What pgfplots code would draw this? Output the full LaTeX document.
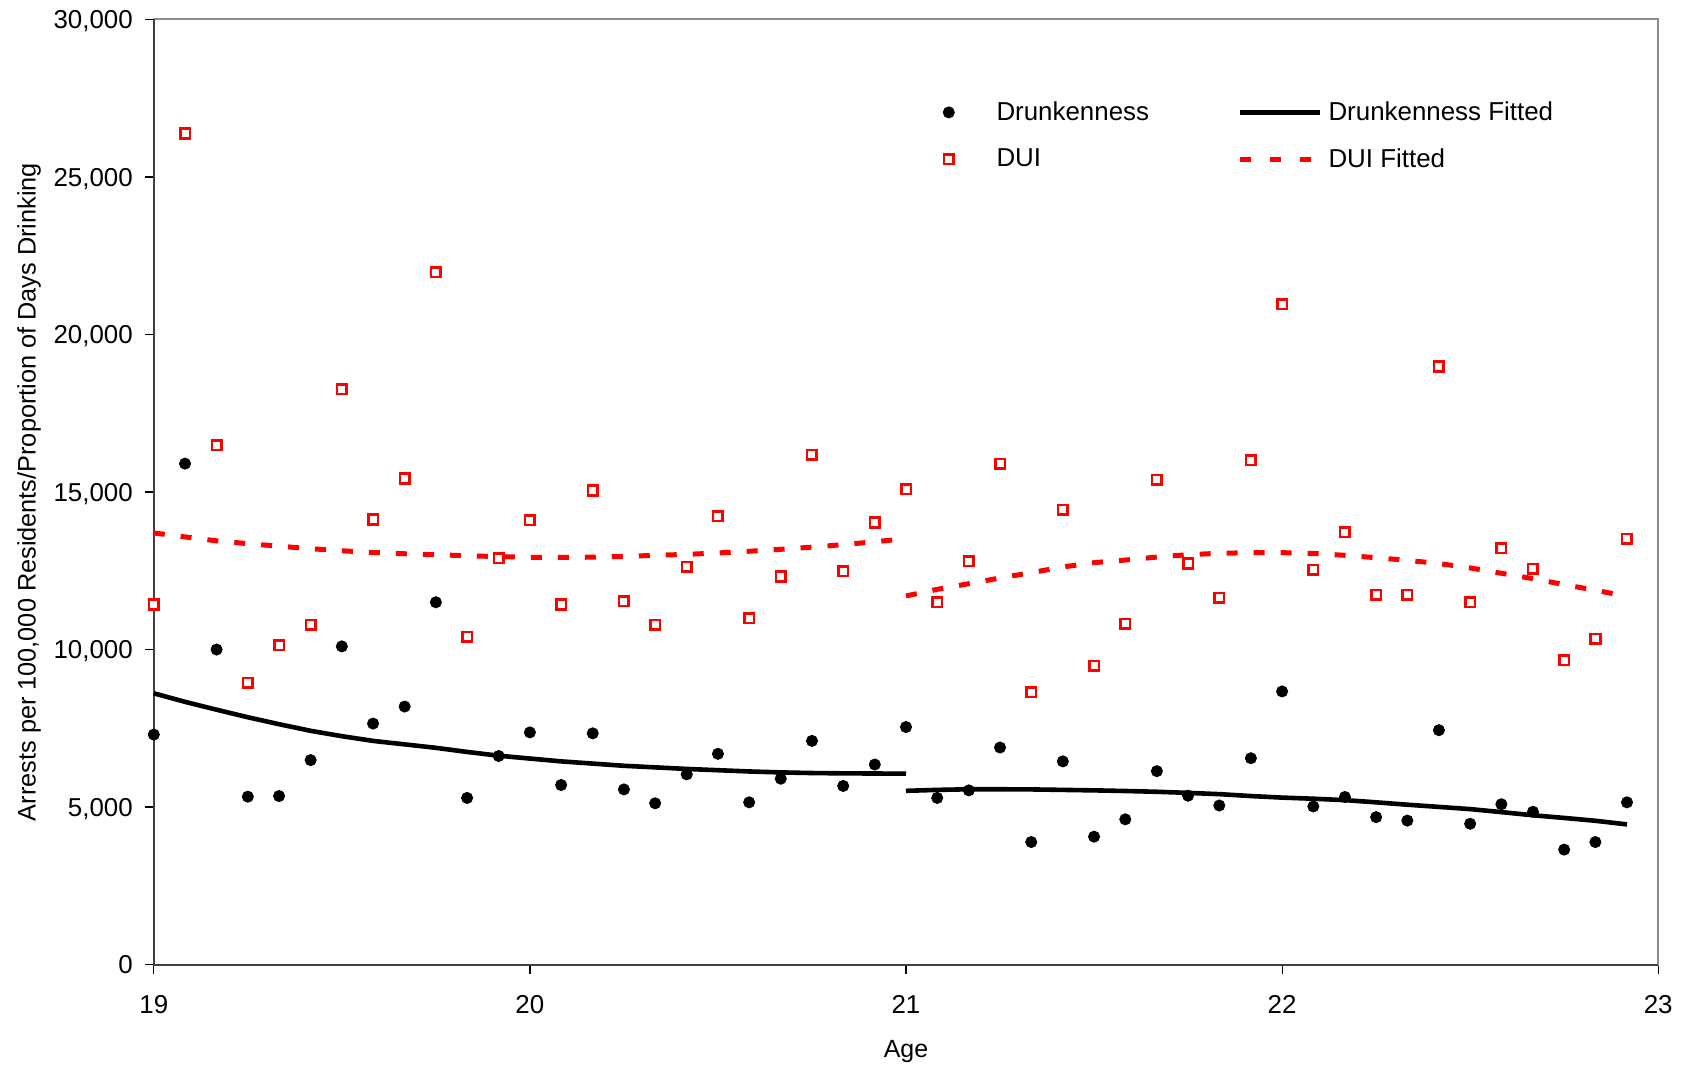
\documentclass[border=0pt]{standalone}
\usepackage{fontspec}
\setmainfont{Liberation Sans}
\usepackage{pgfplots}
\usepackage{pgfplotstable}
\pgfplotsset{compat=1.18}

\pgfplotsset{
  dotimg/.style={legend image code/.code={\path (-10bp,0bp) (10bp,0bp); \draw[##1] plot coordinates {(0bp,0bp)};}},
  lineimg/.style={legend image code/.code={\draw[##1] (0bp,0bp) -- (40bp,0bp);}},
  dashimg/.style={legend image code/.code={\draw[##1, dash pattern=on 5.5bp off 9.5bp] (0bp,0bp) -- (40bp,0bp);}},
}

% monthly observations, age 19 to 22 11/12
\pgfplotstableread{
age drunk dui
19.000 7300 11430
19.083 15900 26380
19.167 10000 16480
19.250 5330 8940
19.333 5350 10140
19.417 6490 10790
19.500 10100 18260
19.583 7650 14130
19.667 8190 15430
19.750 11500 21980
19.833 5290 10410
19.917 6620 12900
20.000 7370 14100
20.083 5700 11430
20.167 7340 15050
20.250 5560 11540
20.333 5120 10790
20.417 6040 12630
20.500 6690 14230
20.583 5150 10990
20.667 5900 12320
20.750 7100 16180
20.833 5670 12490
20.917 6350 14030
21.000 7540 15090
21.083 5290 11500
21.167 5530 12800
21.250 6890 15900
21.333 3890 8640
21.417 6450 14440
21.500 4060 9490
21.583 4610 10820
21.667 6140 15390
21.750 5360 12730
21.833 5050 11640
21.917 6550 16010
22.000 8670 20960
22.083 5020 12530
22.167 5320 13720
22.250 4680 11740
22.333 4570 11740
22.417 7440 18980
22.500 4470 11500
22.583 5090 13210
22.667 4850 12560
22.750 3650 9660
22.833 3890 10340
22.917 5150 13520
}\arrests

% fitted values below 21
\pgfplotstableread{
age dfit uifit
19.000 8610 13700
19.083 8340 13575
19.167 8090 13450
19.250 7850 13360
19.333 7630 13280
19.417 7420 13200
19.500 7250 13135
19.583 7100 13080
19.667 6990 13040
19.750 6880 13010
19.833 6750 12975
19.917 6630 12950
20.000 6540 12925
20.083 6450 12925
20.167 6380 12930
20.250 6310 12955
20.333 6260 12990
20.417 6210 13020
20.500 6170 13065
20.583 6130 13120
20.667 6100 13180
20.750 6080 13250
20.833 6070 13330
20.917 6065 13420
21.000 6060 13520
}\fitlow

% fitted values from 21
\pgfplotstableread{
age dfit uifit
21.000 5515 11700
21.083 5545 11910
21.167 5565 12090
21.250 5565 12270
21.333 5560 12440
21.417 5545 12620
21.500 5530 12757
21.583 5510 12840
21.667 5485 12935
21.750 5450 13010
21.833 5410 13055
21.917 5350 13073
22.000 5300 13075
22.083 5265 13050
22.167 5220 12990
22.250 5150 12915
22.333 5075 12830
22.417 5005 12730
22.500 4935 12590
22.583 4840 12420
22.667 4740 12250
22.750 4655 12060
22.833 4565 11880
22.917 4450 11690
}\fithigh

\begin{document}
\begin{tikzpicture}
\begin{axis}[
    scale only axis,
    width=752.2bp, height=472.6bp,
    xmin=19, xmax=23, ymin=0, ymax=30000,
    xtick={19,20,21,22,23},
    ytick={0,5000,10000,15000,20000,25000,30000},
    scaled y ticks=false,
    clip=false,
    tick align=outside,
    xtick pos=left, ytick pos=left,
    major tick length=4.5bp,
    tick style={black, line width=0.6bp},
    axis line style={draw=black!45, line width=1bp},
    /pgf/number format/assume math mode=true,
    ticklabel style={font=\fontsize{13}{15}\selectfont},
    yticklabel style={/pgf/number format/1000 sep={,}, anchor=base east, inner sep=0pt, xshift=-5.8bp, yshift=-4.65bp},
    xticklabel style={anchor=base, inner sep=0pt, yshift=-19.9bp},
    xlabel={Age},
    xlabel style={at={(axis description cs:0.5,-0.0978)}, anchor=base, inner sep=0pt, font=\fontsize{12.5}{15}\selectfont},
    ylabel={Arrests per 100,000 Residents/Proportion of Days Drinking},
    ylabel style={at={(axis description cs:-0.0786,0.5)}, anchor=base, inner sep=0pt, font=\fontsize{12.7}{15}\selectfont},
    legend columns=2,
    legend cell align=left,
    legend style={draw=none, fill=none, inner sep=0pt, outer sep=0pt,
        at={(axis description cs:0.5149,0.9131)}, anchor=north west,
        row sep=12.6bp, font=\fontsize{13}{15}\selectfont,
        nodes={inner sep=0pt},
        /tikz/column 1/.style={column sep=13.65bp},
        /tikz/column 2/.style={column sep=44bp},
        /tikz/column 3/.style={column sep=3.2bp}},
]
\draw[black!75, line width=1bp] (rel axis cs:0,1) -- (rel axis cs:0,0) -- (rel axis cs:1,0);

\addplot[only marks, mark=*, mark size=2.8bp, black, dotimg]
    table[x=age, y=drunk] {\arrests};
\addlegendentry{Drunkenness}

\addplot[black, line width=2.3bp, no marks, lineimg]
    table[x=age, y=dfit] {\fitlow};
\addlegendentry{Drunkenness Fitted}

\addplot[only marks, mark=square*, mark size=2.4bp, red,
    mark options={draw=red, fill=white, line width=1.3bp}, dotimg]
    table[x=age, y=dui] {\arrests};
\addlegendentry{DUI}

\addplot[red, line width=2.5bp, no marks, dash pattern=on 5.5bp off 8bp, dashimg]
    table[x=age, y=uifit] {\fitlow};
\addlegendentry{DUI Fitted}

\addplot[forget plot, black, line width=2.3bp, no marks] table[x=age, y=dfit] {\fithigh};
\addplot[forget plot, red, line width=2.5bp, no marks, dash pattern=on 5.5bp off 8bp] table[x=age, y=uifit] {\fithigh};
\end{axis}
\pgfresetboundingbox
\path (-76.9bp,-50.7bp) rectangle (766.1bp,482.3bp);
\end{tikzpicture}
\end{document}
